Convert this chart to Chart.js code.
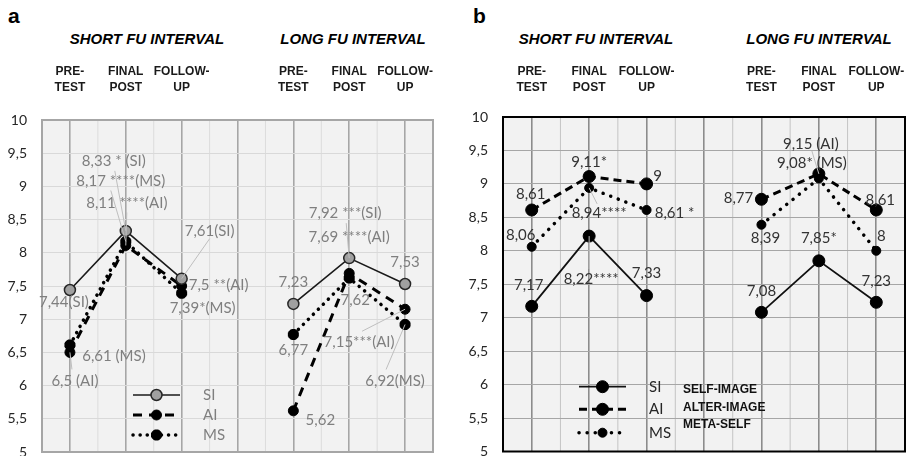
<!DOCTYPE html>
<html>
<head>
<meta charset="utf-8">
<script src="https://cdn.jsdelivr.net/npm/chart.js@4.4.1/dist/chart.umd.min.js"></script>
<style>
  body { margin: 0; background: #fff; width: 910px; height: 456px; position: relative; overflow: hidden; font-family: 'Liberation Sans', Arial, sans-serif; }
  .panel { position: absolute; top: 0; width: 455px; height: 456px; }
  .letter { position: absolute; top: 5px; font-weight: bold; font-size: 21px; line-height: 1; }
  .sec { position: absolute; top: 31px; width: 200px; text-align: center; white-space: nowrap; font: italic bold 15px/1 'Liberation Sans', Arial, sans-serif; }
</style>
</head>
<body>
<div class="letter" style="left:8px">a</div>
<div class="letter" style="left:473px">b</div>
<div class="sec" style="left:47px">SHORT FU INTERVAL</div>
<div class="sec" style="left:253px">LONG FU INTERVAL</div>
<div class="sec" style="left:496px">SHORT FU INTERVAL</div>
<div class="sec" style="left:719px">LONG FU INTERVAL</div>
<div class="panel" style="left:0"><canvas id="chartA" width="455" height="456"></canvas></div>
<div class="panel" style="left:455px"><canvas id="chartB" width="455" height="456"></canvas></div>
<script>
// time points, with an empty slot between the short and long follow-up groups
var categories = [['PRE-', 'TEST'], ['FINAL', 'POST'], ['FOLLOW-', 'UP'], '', ['PRE-', 'TEST'], ['FINAL', 'POST'], ['FOLLOW-', 'UP']];
var seriesNames = ['SI', 'AI', 'MS'];
var seriesLongNames = ['SELF-IMAGE', 'ALTER-IMAGE', 'META-SELF'];

// panel a
var siA = [7.44, 8.33, 7.61, null, 7.23, 7.92, 7.53];
var aiA = [6.5, 8.11, 7.5, null, 5.62, 7.69, 7.15];
var msA = [6.61, 8.17, 7.39, null, 6.77, 7.62, 6.92];
var siTagsA = ['(SI)', ' * (SI)', '(SI)', '', '', ' ***(SI)', ''];
var aiTagsA = [' (AI)', ' ****(AI)', ' **(AI)', '', '', ' ****(AI)', '***(AI)'];
var msTagsA = [' (MS)', ' ****(MS)', '*(MS)', '', '', '', '(MS)'];

// panel b
var siB = [7.17, 8.22, 7.33, null, 7.08, 7.85, 7.23];
var aiB = [8.61, 9.11, 9, null, 8.77, 9.15, 8.61];
var msB = [8.06, 8.94, 8.61, null, 8.39, 9.08, 8];
var siTagsB = ['', '****', '', '', '', '*', ''];
var aiTagsB = ['', '*', '', '', '', ' (AI)', ''];
var msTagsB = ['', '****', ' *', '', '', '* (MS)', ''];

Chart.defaults.font.family = 'Lato, sans-serif';

function fmt(v) {
  return String(v).replace('.', ',');
}

// label offsets from each point: [dx, dy, leaderStartX, leaderStartY]
var placeA = [
  [[-6, 12], [-12, -70, 1, 10], [28, -48, 0, 8], null, [0, -22], [-4, -45, 1, 10], [0, -22]],
  [[5, 29, -3, -12], [1, -42, 0, 9], [37, -1], null, [27, 9], [0, -36], [-46, 33, 3, -11]],
  [[44, 11], [-5, -60, -10, 9], [21, 15], null, [0, 16], [6, 22], [-10, 57, -9, -12]]
];
var placeB = [
  [[-3, -21], [2, 43, -2, -10], [0, -22], null, [0, -21], [0, -23], [0, -21]],
  [[-1, -16], [0, -14], [11, -8], null, [-23, -1], [-8, -30, 1, 7], [4, -10]],
  [[-11, -12], [10, 25, -2, -9], [28, 3], null, [4, 13], [-7, -15], [5, -15]]
];

function labelPlugin(place, color, leaderColor) {
  return {
    id: 'pointLabels',
    afterDatasetsDraw: function(chart) {
      var ctx = chart.ctx;
      ctx.save();
      ctx.font = '15px Lato, sans-serif';
      ctx.textAlign = 'center';
      ctx.textBaseline = 'middle';
      chart.data.datasets.forEach(function(ds, di) {
        var meta = chart.getDatasetMeta(di);
        ds.data.forEach(function(v, i) {
          if (v === null) return;
          var p = place[di][i];
          var pt = meta.data[i];
          var x = pt.x + p[0], y = pt.y + p[1];
          if (p.length > 2) {
            ctx.strokeStyle = leaderColor;
            ctx.lineWidth = 1;
            ctx.beginPath();
            ctx.moveTo(x + p[2], y + p[3]);
            ctx.lineTo(pt.x, pt.y);
            ctx.stroke();
          }
          ctx.fillStyle = color;
          ctx.fillText(fmt(v) + ds.tags[i], x, y);
        });
      });
      ctx.restore();
    }
  };
}

function legendPlugin(o) {
  return {
    id: 'seriesKey',
    afterDatasetsDraw: function(chart) {
      var ctx = chart.ctx;
      chart.data.datasets.forEach(function(ds, i) {
        var y = o.y[i];
        ctx.save();
        ctx.strokeStyle = ds.borderColor;
        ctx.lineWidth = ds.borderWidth;
        ctx.lineCap = ds.borderCapStyle || 'butt';
        ctx.setLineDash(ds.borderDash || []);
        ctx.beginPath();
        ctx.moveTo(o.x0, y);
        ctx.lineTo(o.x1, y);
        ctx.stroke();
        ctx.setLineDash([]);
        ctx.lineCap = 'butt';
        ctx.fillStyle = ds.pointBackgroundColor;
        ctx.strokeStyle = ds.pointBorderColor;
        ctx.lineWidth = ds.pointBorderWidth;
        Chart.helpers.drawPoint(ctx, {
          pointStyle: ds.pointStyle, radius: ds.pointRadius, borderWidth: ds.pointBorderWidth, rotation: 0
        }, (o.x0 + o.x1) / 2, y);
        ctx.font = '15px Lato, sans-serif';
        ctx.fillStyle = o.color;
        ctx.textAlign = 'left';
        ctx.textBaseline = 'middle';
        ctx.fillText(ds.label, o.textX, y);
        if (o.names) {
          ctx.font = 'bold 12px "Liberation Sans", Arial, sans-serif';
          ctx.fillStyle = '#111';
          ctx.fillText(o.names[i], o.nameX, o.nameY[i]);
        }
        ctx.restore();
      });
    }
  };
}

// plot background, light lines between the time points, and the outer frame
function framePlugin(bg, minor, frameColor, frameWidth) {
  return {
    id: 'plotFrame',
    beforeDraw: function(chart) {
      var a = chart.chartArea, ctx = chart.ctx, xs = chart.scales.x;
      ctx.save();
      ctx.fillStyle = bg;
      ctx.fillRect(a.left, a.top, a.right - a.left, a.bottom - a.top);
      ctx.strokeStyle = minor;
      ctx.lineWidth = 1;
      for (var i = 0; i < categories.length - 1; i++) {
        var x = (xs.getPixelForValue(i) + xs.getPixelForValue(i + 1)) / 2;
        ctx.beginPath();
        ctx.moveTo(x, a.top);
        ctx.lineTo(x, a.bottom);
        ctx.stroke();
      }
      ctx.restore();
    },
    beforeDatasetsDraw: function(chart) {
      var a = chart.chartArea, ctx = chart.ctx;
      ctx.save();
      ctx.strokeStyle = frameColor;
      ctx.lineWidth = frameWidth;
      ctx.strokeRect(a.left, a.top, a.right - a.left, a.bottom - a.top);
      ctx.restore();
    }
  };
}

function scales(s) {
  return {
    x: {
      type: 'category',
      position: 'top',
      offset: true,
      border: { display: false },
      grid: { offset: false, color: s.major, lineWidth: 1.6, drawTicks: false },
      ticks: {
        color: '#1a1a1a', padding: s.xPad, maxRotation: 0, minRotation: 0, autoSkip: false,
        font: { family: '"Liberation Sans", Arial, sans-serif', size: 12, weight: 'bold', lineHeight: 1.35 }
      },
      afterFit: function(scale) {
        scale.height = s.xHeight;
        scale.paddingLeft = 0;
        scale.paddingRight = 0;
      }
    },
    y: {
      min: 5,
      max: 10,
      border: { display: false },
      grid: { color: s.hgrid, lineWidth: 1, drawTicks: false },
      ticks: {
        stepSize: 0.5, padding: 15, color: '#262626',
        font: { size: 14 },
        callback: function(v) { return fmt(v); }
      },
      afterFit: function(scale) {
        scale.width = s.yWidth;
        scale.paddingTop = 0;
        scale.paddingBottom = 0;
      }
    }
  };
}

// panel a
new Chart(document.getElementById('chartA'), {
  type: 'line',
  data: {
    labels: categories,
    datasets: [
      {
        label: seriesNames[0], data: siA, tags: siTagsA,
        borderColor: '#1a1a1a', borderWidth: 1.6,
        pointStyle: 'circle', pointRadius: 5.5, pointBackgroundColor: '#a0a0a0', pointBorderColor: '#262626', pointBorderWidth: 1.5
      },
      {
        label: seriesNames[1], data: aiA, tags: aiTagsA,
        borderColor: '#000', borderWidth: 3, borderDash: [9, 7],
        pointStyle: 'circle', pointRadius: 5, pointBackgroundColor: '#000', pointBorderColor: '#000', pointBorderWidth: 1
      },
      {
        label: seriesNames[2], data: msA, tags: msTagsA,
        borderColor: '#000', borderWidth: 3.5, borderDash: [0.1, 7], borderCapStyle: 'round',
        pointStyle: 'star', pointRadius: 5.5, pointBackgroundColor: '#000', pointBorderColor: '#000', pointBorderWidth: 4
      }
    ]
  },
  options: {
    responsive: false,
    animation: false,
    events: [],
    spanGaps: false,
    elements: { line: { tension: 0 } },
    layout: { autoPadding: false, padding: { top: 50, bottom: 4, left: 0, right: 22 } },
    plugins: { legend: { display: false }, tooltip: { enabled: false } },
    scales: scales({ major: '#a6a6a6', hgrid: '#d9d9d9', xPad: 24.3, xHeight: 70, yWidth: 42 })
  },
  plugins: [
    framePlugin('#f2f2f2', '#dcdcdc', '#a6a6a6', 2),
    labelPlugin(placeA, '#7f7f7f', '#bfbfbf'),
    legendPlugin({ x0: 133, x1: 180, y: [395, 415, 435], textX: 203, color: '#7f7f7f' })
  ]
});

// panel b
new Chart(document.getElementById('chartB'), {
  type: 'line',
  data: {
    labels: categories,
    datasets: [
      {
        label: seriesNames[0], data: siB, tags: siTagsB,
        borderColor: '#111', borderWidth: 1.8,
        pointStyle: 'circle', pointRadius: 6, pointBackgroundColor: '#000', pointBorderColor: '#000', pointBorderWidth: 1
      },
      {
        label: seriesNames[1], data: aiB, tags: aiTagsB,
        borderColor: '#000', borderWidth: 3, borderDash: [8, 5],
        pointStyle: 'circle', pointRadius: 6, pointBackgroundColor: '#000', pointBorderColor: '#000', pointBorderWidth: 1
      },
      {
        label: seriesNames[2], data: msB, tags: msTagsB,
        borderColor: '#000', borderWidth: 3.5, borderDash: [0.1, 8], borderCapStyle: 'round',
        pointStyle: 'circle', pointRadius: 4.5, pointBackgroundColor: '#000', pointBorderColor: '#000', pointBorderWidth: 1
      }
    ]
  },
  options: {
    responsive: false,
    animation: false,
    events: [],
    spanGaps: false,
    elements: { line: { tension: 0 } },
    layout: { autoPadding: false, padding: { top: 47, bottom: 4.5, left: 0, right: 5 } },
    plugins: { legend: { display: false }, tooltip: { enabled: false } },
    scales: scales({ major: '#8c8c8c', hgrid: '#a6a6a6', xPad: 21.3, xHeight: 70, yWidth: 48 })
  },
  plugins: [
    framePlugin('#f2f2f2', '#c4c4c4', '#000', 2),
    labelPlugin(placeB, '#333', '#bfbfbf'),
    legendPlugin({
      x0: 124, x1: 171, y: [386.7, 409.3, 432.7], textX: 194, color: '#262626',
      names: seriesLongNames, nameX: 228, nameY: [390, 407.5, 425]
    })
  ]
});
</script>
</body>
</html>
